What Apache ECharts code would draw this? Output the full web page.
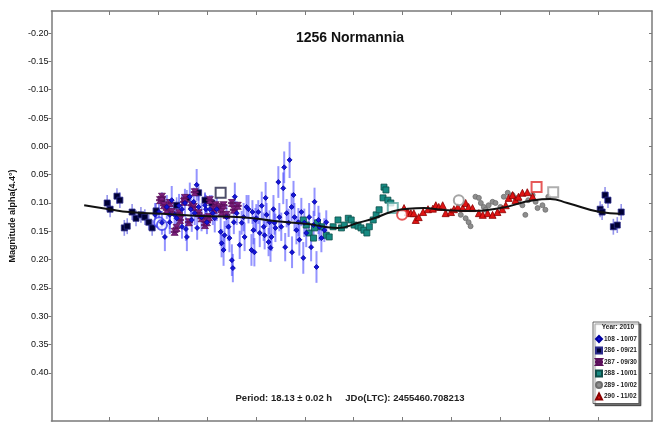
<!DOCTYPE html>
<html>
<head>
<meta charset="utf-8">
<title>1256 Normannia</title>
<script src="https://cdn.jsdelivr.net/npm/echarts@6/dist/echarts.min.js"></script>
<style>
  html, body { margin: 0; padding: 0; background: #fff; }
  #chart { width: 657px; height: 424px; }
</style>
</head>
<body>
<div id="chart"></div>
<script>
// Composite lightcurve of 1256 Normannia, phased to P = 18.13 h.
// Each session is [phase, magnitude]; sessions with error bars carry [phase, mag, err].

const yTicks = [-0.20, -0.15, -0.10, -0.05, 0.00, 0.05, 0.10, 0.15, 0.20, 0.25, 0.30, 0.35, 0.40];
const xTicks = [0, 0.1, 0.2, 0.3, 0.4, 0.5, 0.6, 0.7, 0.8, 0.9, 1.0];

const legendNames = ['108 - 10/07', '286 - 09/21', '287 - 09/30', '288 - 10/01', '289 - 10/02', '290 - 11/02'];

// Fourier fit
const fitPhase = [-0.051, 0.000, 0.041, 0.108, 0.189, 0.271, 0.338, 0.407, 0.440, 0.468, 0.509, 0.542, 0.576, 0.611, 0.644, 0.678, 0.733, 0.800, 0.868, 0.902, 0.937, 1.004, 1.045];
const fitMag   = [0.104, 0.111, 0.116, 0.119, 0.123, 0.125, 0.132, 0.137, 0.142, 0.144, 0.135, 0.127, 0.116, 0.110, 0.109, 0.112, 0.114, 0.109, 0.095, 0.093, 0.100, 0.116, 0.119];

// Session 108 - 10/07 (with errors)
const s108 = [
  [0.094,0.121,0.021],[0.102,0.116,0.025],[0.108,0.135,0.021],[0.114,0.160,0.025],[0.118,0.107,0.021],
  [0.124,0.121,0.025],[0.124,0.134,0.021],[0.128,0.095,0.025],[0.134,0.121,0.021],[0.138,0.127,0.025],
  [0.143,0.105,0.021],[0.149,0.111,0.025],[0.149,0.142,0.021],[0.155,0.100,0.025],[0.157,0.146,0.021],
  [0.159,0.160,0.025],[0.165,0.089,0.025],[0.167,0.111,0.021],[0.169,0.130,0.021],[0.173,0.098,0.025],
  [0.175,0.118,0.021],[0.179,0.068,0.028],[0.180,0.144,0.021],[0.183,0.107,0.021],[0.189,0.125,0.025],
  [0.196,0.104,0.021],[0.198,0.111,0.025],[0.200,0.134,0.021],[0.206,0.111,0.025],[0.212,0.118,0.021],
  [0.216,0.127,0.025],[0.220,0.111,0.021],[0.228,0.151,0.025],[0.230,0.171,0.025],[0.234,0.183,0.028],
  [0.236,0.157,0.025],[0.240,0.125,0.021],[0.244,0.142,0.025],[0.246,0.162,0.025],[0.251,0.201,0.028],
  [0.253,0.215,0.025],[0.255,0.134,0.021],[0.257,0.089,0.025],[0.261,0.118,0.021],[0.267,0.174,0.025],
  [0.271,0.135,0.021],[0.275,0.125,0.025],[0.277,0.160,0.025],[0.281,0.107,0.021],[0.285,0.111,0.025],
  [0.291,0.183,0.028],[0.293,0.116,0.021],[0.295,0.148,0.025],[0.297,0.187,0.025],[0.299,0.130,0.021],
  [0.301,0.127,0.025],[0.305,0.116,0.021],[0.308,0.153,0.025],[0.312,0.105,0.025],[0.316,0.142,0.025],
  [0.318,0.157,0.025],[0.320,0.091,0.028],[0.322,0.121,0.021],[0.326,0.169,0.025],[0.328,0.134,0.021],
  [0.330,0.179,0.025],[0.332,0.160,0.025],[0.336,0.111,0.025],[0.338,0.135,0.021],[0.340,0.144,0.025],
  [0.346,0.063,0.028],[0.348,0.125,0.025],[0.352,0.142,0.025],[0.356,0.074,0.028],[0.358,0.037,0.028],
  [0.360,0.178,0.025],[0.363,0.118,0.025],[0.367,0.135,0.025],[0.369,0.024,0.032],[0.373,0.107,0.025],
  [0.374,0.187,0.028],[0.377,0.086,0.025],[0.379,0.125,0.025],[0.383,0.148,0.025],[0.387,0.134,0.025],
  [0.389,0.165,0.028],[0.393,0.116,0.025],[0.397,0.197,0.028],[0.399,0.135,0.025],[0.403,0.153,0.025],
  [0.409,0.125,0.025],[0.413,0.178,0.025],[0.418,0.139,0.025],[0.420,0.098,0.025],[0.424,0.213,0.028],
  [0.428,0.130,0.025],[0.430,0.142,0.025],[0.434,0.162,0.025],[0.440,0.148,0.021],[0.444,0.134,0.021]
];
const s108Open = [[0.102,0.134],[0.108,0.139]];

// Session 286 - 09/21 (with errors)
const s286 = [
  [-0.004,0.100,0.014],[0.002,0.111,0.014],[0.016,0.088,0.014],[0.022,0.095,0.014],[0.031,0.144,0.014],
  [0.037,0.141,0.014],[0.047,0.116,0.014],[0.055,0.127,0.014],[0.065,0.121,0.014],[0.073,0.125,0.014],
  [0.081,0.134,0.014],[0.088,0.144,0.014],[0.096,0.114,0.014],[0.108,0.095,0.014],[0.138,0.104,0.014],
  [0.159,0.091,0.014],[0.183,0.082,0.014],[0.196,0.095,0.014],[0.210,0.100,0.014],
  [1.004,0.111,0.014],[1.008,0.116,0.014],[1.014,0.086,0.014],[1.020,0.095,0.014],[1.031,0.142,0.014],
  [1.039,0.139,0.014],[1.047,0.116,0.014]
];
const s286Open = [[0.228,0.082]];

// Session 287 - 09/30
const s287 = [
  [0.104,0.095],[0.108,0.089],[0.112,0.104],[0.118,0.112],[0.124,0.100],[0.128,0.116],[0.134,0.151],
  [0.138,0.144],[0.143,0.118],[0.145,0.130],[0.153,0.098],[0.155,0.091],[0.163,0.134],[0.169,0.104],
  [0.173,0.107],[0.175,0.081],[0.183,0.118],[0.189,0.127],[0.196,0.139],[0.200,0.134],[0.204,0.125],
  [0.206,0.095],[0.214,0.112],[0.218,0.104],[0.226,0.107],[0.230,0.116],[0.234,0.104],[0.240,0.121],
  [0.251,0.100],[0.255,0.112],[0.263,0.105]
];

// Session 288 - 10/01
const s288 = [
  [0.397,0.130],[0.403,0.139],[0.409,0.153],[0.418,0.162],[0.420,0.144],[0.426,0.135],[0.434,0.142],
  [0.444,0.157],[0.450,0.160],[0.458,0.142],[0.468,0.130],[0.475,0.144],[0.481,0.139],[0.489,0.127],
  [0.495,0.130],[0.501,0.139],[0.509,0.141],[0.515,0.144],[0.521,0.148],[0.527,0.153],[0.532,0.142],
  [0.540,0.130],[0.546,0.121],[0.552,0.112],[0.560,0.091],[0.562,0.072],[0.566,0.077],[0.570,0.095],
  [0.576,0.100]
];
const s288Open = [[0.580,0.109]];

// Session 289 - 10/02
const s289 = [
  [0.719,0.121],[0.729,0.127],[0.735,0.134],[0.739,0.141],[0.749,0.089],[0.756,0.091],[0.760,0.100],
  [0.766,0.107],[0.770,0.112],[0.776,0.104],[0.784,0.098],[0.790,0.100],[0.800,0.107],[0.807,0.089],
  [0.815,0.082],[0.825,0.086],[0.831,0.091],[0.837,0.098],[0.845,0.104],[0.851,0.121],[0.857,0.095],
  [0.866,0.086],[0.872,0.098],[0.876,0.109],[0.886,0.104],[0.892,0.112],[0.898,0.089]
];
const s289OpenCircle = [[0.715,0.095]];
const s289OpenSquare = [[0.908,0.081]];

// Session 290 - 11/02
const s290 = [
  [0.603,0.109],[0.611,0.116],[0.617,0.118],[0.623,0.118],[0.627,0.130],[0.633,0.125],[0.642,0.116],
  [0.652,0.111],[0.662,0.110],[0.668,0.104],[0.674,0.107],[0.682,0.104],[0.688,0.118],[0.699,0.116],
  [0.705,0.111],[0.713,0.107],[0.723,0.109],[0.729,0.100],[0.735,0.107],[0.743,0.109],[0.756,0.118],
  [0.764,0.121],[0.774,0.118],[0.784,0.121],[0.794,0.116],[0.804,0.111],[0.811,0.104],[0.817,0.091],
  [0.825,0.086],[0.831,0.095],[0.837,0.089],[0.845,0.082],[0.855,0.081],[0.866,0.089]
];
const s290OpenCircle = [[0.599,0.121]];
const s290OpenSquare = [[0.874,0.072]];

const periodText = 'Period: 18.13 ± 0.02 h     JDo(LTC): 2455460.708213';

// ---- chart ----
const FONT = '"Liberation Sans", Arial, sans-serif';
const AXIS_COLOR = '#7a7a7a';
const bowtie = 'path://M0,0 L10,0 L6,5 L10,10 L0,10 L4,5 Z M0,4 L10,4 L10,6 L0,6 Z';

function errorBars(data, color, width) {
  return {
    type: 'custom',
    data: data,
    encode: { x: 0, y: 1 },
    silent: true,
    z: 2,
    renderItem: function (params, api) {
      const x = api.value(0), y = api.value(1), e = api.value(2);
      const a = api.coord([x, y - e]);
      const b = api.coord([x, y + e]);
      return {
        type: 'line',
        shape: { x1: a[0], y1: a[1], x2: b[0], y2: b[1] },
        style: { stroke: color, lineWidth: width }
      };
    }
  };
}

function points(name, data, symbol, size, fill, border, z) {
  return {
    name: name,
    type: 'scatter',
    data: data.map(d => [d[0], d[1]]),
    symbol: symbol,
    symbolSize: size,
    itemStyle: { color: fill, borderColor: border, borderWidth: 0.8, opacity: 1 },
    z: z || 3
  };
}

function openMarks(data, symbol, size, color) {
  return {
    type: 'scatter',
    data: data,
    symbol: symbol,
    symbolSize: size,
    itemStyle: { color: color, borderColor: color, borderWidth: 1.3 },
    z: 4
  };
}

const chart = echarts.init(document.getElementById('chart'), null, { renderer: 'canvas' });

const axisLine = { show: true, onZero: false, lineStyle: { color: AXIS_COLOR, width: 1.5 } };

chart.setOption({
  animation: false,
  backgroundColor: '#fff',
  grid: { left: 49, right: 5, top: 11, bottom: 3, containLabel: false },
  xAxis: [
    {
      type: 'value', min: -0.118, max: 1.110, position: 'bottom',
      axisLine: axisLine,
      axisTick: { show: true, inside: true, length: 4, customValues: xTicks, lineStyle: { color: AXIS_COLOR, width: 1 } },
      axisLabel: { show: false },
      splitLine: { show: false }
    },
    {
      type: 'value', min: -0.118, max: 1.110, position: 'top',
      axisLine: axisLine,
      axisTick: { show: true, inside: true, length: 4, customValues: xTicks, lineStyle: { color: AXIS_COLOR, width: 1 } },
      axisLabel: { show: false },
      splitLine: { show: false }
    }
  ],
  yAxis: [
    {
      type: 'value', inverse: true, min: -0.239, max: 0.485, position: 'left',
      name: 'Magnitude alpha(4.4°)',
      nameLocation: 'middle', nameRotate: 90, nameGap: 24,
      nameTextStyle: { fontFamily: FONT, fontWeight: 'bold', fontSize: 9, color: '#111' },
      axisLine: axisLine,
      axisTick: { show: true, inside: false, length: 3, customValues: yTicks, lineStyle: { color: AXIS_COLOR, width: 1 } },
      axisLabel: {
        customValues: yTicks, margin: 3, fontFamily: FONT, fontSize: 9, color: '#111',
        formatter: v => v.toFixed(2)
      },
      splitLine: { show: false }
    },
    {
      type: 'value', inverse: true, min: -0.239, max: 0.485, position: 'right',
      axisLine: axisLine,
      axisTick: { show: true, inside: true, length: 3, customValues: yTicks, lineStyle: { color: AXIS_COLOR, width: 1 } },
      axisLabel: { show: false },
      splitLine: { show: false }
    }
  ],
  legend: {
    data: legendNames,
    orient: 'vertical',
    left: 593, top: 322,
    padding: [13, 2, 3, 2],
    itemWidth: 6, itemHeight: 6, itemGap: 3.5,
    backgroundColor: '#fff',
    borderColor: '#444', borderWidth: 0.8,
    shadowColor: 'rgba(0,0,0,0.55)', shadowBlur: 1, shadowOffsetX: 2, shadowOffsetY: 2,
    textStyle: { fontFamily: FONT, fontSize: 6.5, fontWeight: 'bold', color: '#222', padding: [0, 0, 0, -3] },
    selectedMode: false
  },
  graphic: [
    {
      type: 'text', z: 100,
      style: { text: '1256 Normannia', x: 350, y: 38, textAlign: 'center', textVerticalAlign: 'middle',
               font: 'bold 14px ' + FONT, fill: '#111' }
    },
    {
      type: 'text', z: 100,
      style: { text: periodText, x: 350, y: 398, textAlign: 'center', textVerticalAlign: 'middle',
               font: 'bold 9.5px ' + FONT, fill: '#222' }
    },
    {
      type: 'text', z: 100,
      style: { text: 'Year: 2010', x: 634, y: 327, textAlign: 'right', textVerticalAlign: 'middle',
               font: 'bold 6.5px ' + FONT, fill: '#222' }
    }
  ],
  series: [
    errorBars(s108, 'rgba(60,60,255,0.55)', 2),
    errorBars(s286, 'rgba(60,60,220,0.55)', 1.6),
    points('286 - 09/21', s286, 'rect', 6, '#000033', '#2a2a8a', 3),
    points('287 - 09/30', s287, bowtie, 7, '#7d1f7d', '#5a0f5a', 3),
    points('108 - 10/07', s108, 'diamond', 5, '#1515d8', '#0000a0', 5),
    points('288 - 10/01', s288, 'rect', 6, '#178a82', '#0d4d48', 3),
    points('289 - 10/02', s289, 'circle', 5, '#8e8e8e', '#6e6e6e', 3),
    points('290 - 11/02', s290, 'triangle', 7, '#e01414', '#8a0000', 3),
    openMarks(s108Open, 'emptyCircle', 10, '#3a3af0'),
    openMarks(s286Open, 'emptyRect', 10, '#222244'),
    openMarks(s288Open, 'emptyRect', 10, '#5aa8a2'),
    openMarks(s289OpenCircle, 'emptyCircle', 10, '#8e8e8e'),
    openMarks(s289OpenSquare, 'emptyRect', 10, '#9a9a9a'),
    openMarks(s290OpenCircle, 'emptyCircle', 10, '#e03030'),
    openMarks(s290OpenSquare, 'emptyRect', 10, '#e03030'),
    {
      type: 'line',
      data: fitPhase.map((p, i) => [p, fitMag[i]]),
      smooth: 0.5,
      showSymbol: false,
      silent: true,
      lineStyle: { color: '#111', width: 2 },
      z: 6
    }
  ]
});
</script>
</body>
</html>
